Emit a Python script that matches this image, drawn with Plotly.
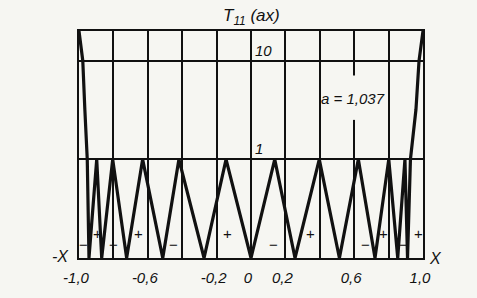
import math
import plotly.graph_objects as go

# ---- data (|T11(a x)|, a = 1.037) ----
curve_x = [-1.0, -0.978, -0.966, -0.952, -0.942, -0.897, -0.868, -0.804, -0.723,
           -0.630, -0.513, -0.419, -0.273, -0.145, 0.0, 0.138, 0.256, 0.397,
           0.514, 0.624, 0.721, 0.801, 0.853, 0.895, 0.910, 0.927, 0.959, 0.977, 1.0]
curve_y = [20, 10, 3.2, 1, 0, 1, 0, 1, 0,
           1, 0, 1, 0, 1, 0, 1, 0, 1,
           0, 1, 0, 1, 0, 1, 0, 1, 3.2, 10, 20]

xtick_vals = [-1.0, -0.6, -0.2, 0.0, 0.2, 0.6, 1.0]
xtick_text = ["-1,0", "-0,6", "-0,2", "0", "0,2", "0,6", "1,0"]
ytick_vals = [1, 10]
ytick_text = ["1", "10"]

sign_x = [-0.971, -0.895, -0.802, -0.657, -0.448, -0.134,
          0.128, 0.343, 0.663, 0.770, 0.884, 0.973]
sign_text = ["\u2212", "+", "\u2212", "+", "\u2212", "+",
             "\u2212", "+", "\u2212", "+", "\u2212", "+"]

param_label = "a = 1,037"
y_top_value = 20


# composite scale: linear 0..1, logarithmic above 1
def to_u(v):
    return v if v <= 1 else 1 + math.log10(v)


BG = "#f6f6f2"
INK = "#111111"
FONT = "Liberation Sans"

fig = go.Figure()
fig.add_trace(go.Scatter(
    x=curve_x, y=[to_u(v) for v in curve_y], mode="lines",
    line=dict(color=INK, width=3.2), hoverinfo="skip", showlegend=False,
    cliponaxis=True))

annotations = []
for sx, st in zip(sign_x, sign_text):
    annotations.append(dict(
        x=sx, y=0.245 if st == "+" else 0.14, xref="x", yref="y", text=st,
        showarrow=False, font=dict(family=FONT, size=15, color=INK),
        xanchor="center", yanchor="middle"))

for v, t in zip(ytick_vals, ytick_text):
    annotations.append(dict(
        x=0.012, y=to_u(v), xref="x", yref="y", text=t, showarrow=False,
        font=dict(family=FONT, size=15, color=INK, style="italic"),
        xanchor="left", yanchor="bottom"))

annotations += [
    dict(x=0.5, y=1.06, xref="paper", yref="paper",
         text="T<sub>11</sub> (ax)", showarrow=False,
         font=dict(family=FONT, size=17, color=INK, style="italic"),
         xanchor="center", yanchor="middle"),
    dict(x=0.593, y=1.618, xref="x", yref="y", text=param_label,
         showarrow=False,
         font=dict(family=FONT, size=15, color=INK, style="italic"),
         xanchor="center", yanchor="middle"),
    dict(x=-0.055, y=0.005, xref="paper", yref="paper", text="-X",
         showarrow=False,
         font=dict(family=FONT, size=16, color=INK, style="italic"),
         xanchor="center", yanchor="middle"),
    dict(x=1.035, y=0.0, xref="paper", yref="paper", text="X",
         showarrow=False,
         font=dict(family=FONT, size=16, color=INK, style="italic"),
         xanchor="center", yanchor="middle"),
]

fig.update_layout(
    width=477, height=298,
    margin=dict(l=79, r=54, t=31, b=31),
    paper_bgcolor=BG, plot_bgcolor=BG,
    annotations=annotations,
    shapes=[dict(type="rect", xref="x", yref="y", x0=0.585, x1=0.615,
                 y0=1.40, y1=1.85, fillcolor=BG, line=dict(width=0),
                 layer="between")],
)

fig.update_xaxes(
    range=[-1.0, 1.0],
    showgrid=True, gridcolor=INK, gridwidth=1.6,
    zeroline=False, showline=True, linecolor=INK, linewidth=1.8, mirror=True,
    ticks="", tickmode="array",
    tickvals=xtick_vals, ticktext=xtick_text,
    tickfont=dict(family=FONT, size=15, color=INK, style="italic"),
    ticklabelshift=-3, ticklabelstandoff=5,
    minor=dict(dtick=0.2, tick0=-1.0, showgrid=True,
               gridcolor=INK, gridwidth=1.6, ticks=""),
)

fig.update_yaxes(
    range=[0, to_u(y_top_value)], tickmode="array",
    tickvals=[to_u(v) for v in ytick_vals], showticklabels=False,
    showgrid=True, gridcolor=INK, gridwidth=1.6,
    zeroline=False, showline=True, linecolor=INK, linewidth=1.8, mirror=True,
    ticks="",
)

fig.write_html("out.html")
